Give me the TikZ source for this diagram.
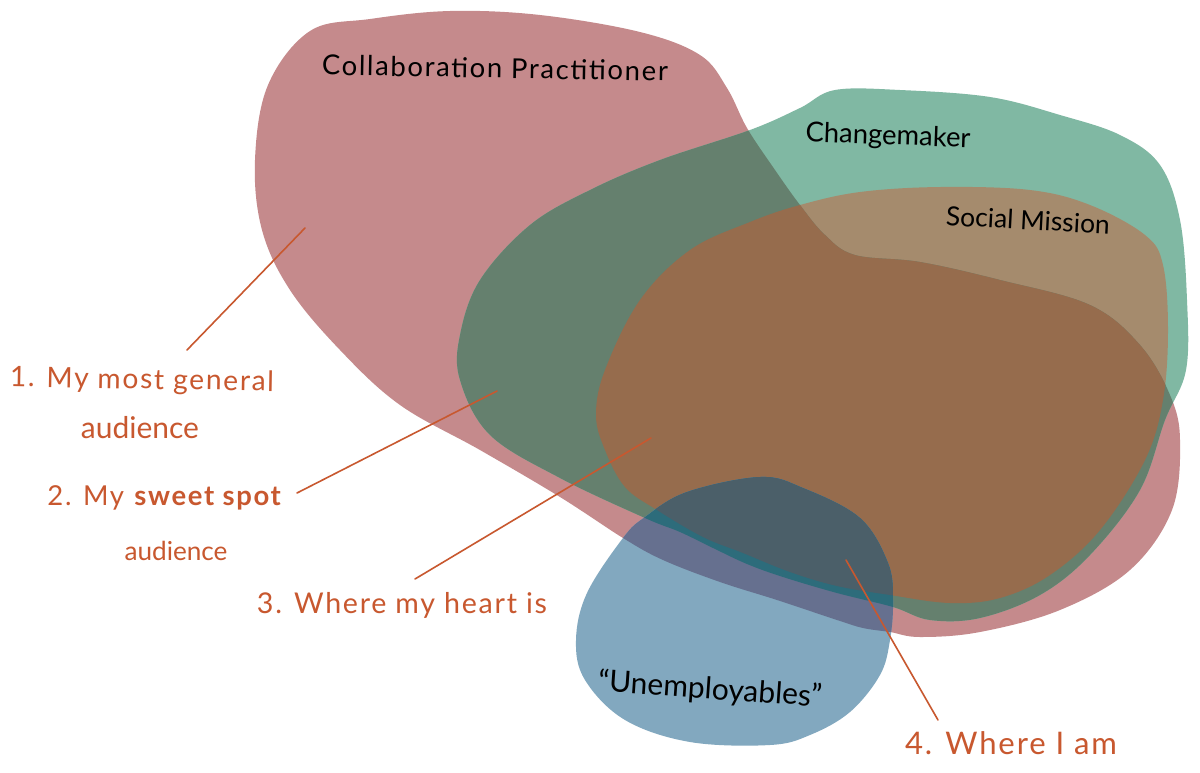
\documentclass[tikz,border=0pt]{standalone}
\usepackage{fontspec}
\usepackage{graphicx}
\newfontfamily\handfont[LetterSpace=6]{Lato}
\newfontfamily\handtight[LetterSpace=0]{Lato}
\definecolor{cred}{HTML}{C58A8C}
\definecolor{cgreen}{HTML}{80B8A3}
\definecolor{cblue}{HTML}{82A8BF}
\definecolor{ctan}{HTML}{A58B6D}
\definecolor{corange}{HTML}{966C4D}
\definecolor{cdgreen}{HTML}{65806E}
\definecolor{cpurple}{HTML}{66708F}
\definecolor{cteal}{HTML}{2D6C7B}
\definecolor{cnavy}{HTML}{4B5F69}
\definecolor{cink}{HTML}{C8582F}
\def\redblob{plot[smooth cycle,tension=0.6] coordinates {(310,31)(370,19)(450,11)(540,15)(640,32)(700,55)(727,88)(747,128)(775,170)(800,205)(825,235)(855,255)(920,262)(1000,280)(1090,305)(1140,345)(1170,395)(1180,440)(1172,510)(1130,570)(1060,610)(980,632)(920,637)(890,632)(863,628)(837,620)(777,600)(720,582)(663,560)(623,538)(560,497)(480,450)(400,405)(340,350)(290,290)(262,230)(255,160)(268,85)}}
\def\greenblob{plot[smooth cycle,tension=0.6] coordinates {(835,90)(900,90)(990,97)(1060,115)(1120,135)(1160,165)(1180,220)(1187,300)(1186,370)(1165,420)(1140,490)(1090,555)(1040,595)(980,618)(930,620)(893,607)(837,593)(783,577)(747,564)(713,548)(680,532)(645,518)(560,478)(490,435)(460,380)(460,335)(480,280)(530,225)(590,190)(660,160)(750,130)(800,108)}}
\def\socialblob{plot[smooth cycle,tension=0.6] coordinates {(800,205)(860,192)(940,187)(1030,190)(1090,205)(1145,235)(1163,265)(1168,330)(1163,400)(1145,460)(1100,530)(1050,575)(1000,598)(950,603)(890,595)(837,586)(790,572)(743,553)(703,537)(657,510)(625,487)(605,450)(596,415)(605,370)(640,300)(690,250)(750,222)}}
\def\blueblob{plot[smooth cycle,tension=0.6] coordinates {(760,477)(803,488)(860,518)(888,563)(893,600)(890,640)(880,675)(850,712)(810,735)(770,745)(690,742)(625,720)(585,680)(576,640)(587,593)(623,538)(645,517)(687,492)}}
\newcommand{\handtext}[2]{\resizebox{#1pt}{!}{\handfont\fontsize{24}{28}\selectfont #2}}
\newcommand{\handtighttext}[2]{\resizebox{#1pt}{!}{\handtight\fontsize{24}{28}\selectfont #2}}
\tikzset{
  blacklabel/.style={inner sep=0pt,text=black},
  inklabel/.style={inner sep=0pt,text=cink},
  leader/.style={draw=cink,line width=1.6pt,line cap=round},
}
\begin{document}
\begin{tikzpicture}[x=1pt,y=-1pt]
\useasboundingbox (0,0) rectangle (1200,772);
\fill[white] (0,0) rectangle (1200,772);
\fill[cred] \redblob;
\fill[cgreen] \greenblob;
\fill[ctan] \socialblob;
\begin{scope}\clip \redblob; \fill[cdgreen] \greenblob; \end{scope}
\begin{scope}\clip \redblob; \fill[corange] \socialblob; \end{scope}
\fill[cblue] \blueblob;
\begin{scope}\clip \blueblob; \fill[cpurple] \redblob; \end{scope}
\begin{scope}\clip \blueblob; \clip \redblob; \fill[cteal] \greenblob; \end{scope}
\begin{scope}\clip \blueblob; \clip \redblob; \fill[cnavy] \socialblob; \end{scope}

\node[blacklabel,rotate=-1] (collab) at (495,68) {\handtext{346}{Collaboration Practitioner}};
\node[blacklabel,rotate=-2] (change) at (888,137) {\handtighttext{165}{Changemaker}};
\node[blacklabel,rotate=-3] (social) at (1028,220) {\handtighttext{164}{Social Mission}};
\node[blacklabel,rotate=-4] (unemp) at (710,690) {\handtighttext{224}{“Unemployables”}};

\node[inklabel,rotate=-1] (one) at (142,381) {\handtext{264}{1. My most general}};
\node[inklabel] (oneb) at (140,428) {\handtighttext{118}{audience}};
\node[inklabel] (two) at (165,498) {\handtext{235}{2. My \textbf{sweet spot}}};
\node[inklabel] (twob) at (176,551) {\handtighttext{103}{audience}};
\node[inklabel] (three) at (402,605) {\handtext{290}{3. Where my heart is}};
\node[inklabel] (four) at (1011,743) {\handtext{212}{4. Where I am}};

\coordinate (a1) at (305,228); \coordinate (b1) at (187,350);
\coordinate (a2) at (497,391); \coordinate (b2) at (297,493);
\coordinate (a3) at (651,438); \coordinate (b3) at (415,579);
\coordinate (a4) at (846,560); \coordinate (b4) at (938,720);
\draw[leader] (a1) -- (b1);
\draw[leader] (a2) -- (b2);
\draw[leader] (a3) -- (b3);
\draw[leader] (a4) -- (b4);
\end{tikzpicture}
\end{document}
